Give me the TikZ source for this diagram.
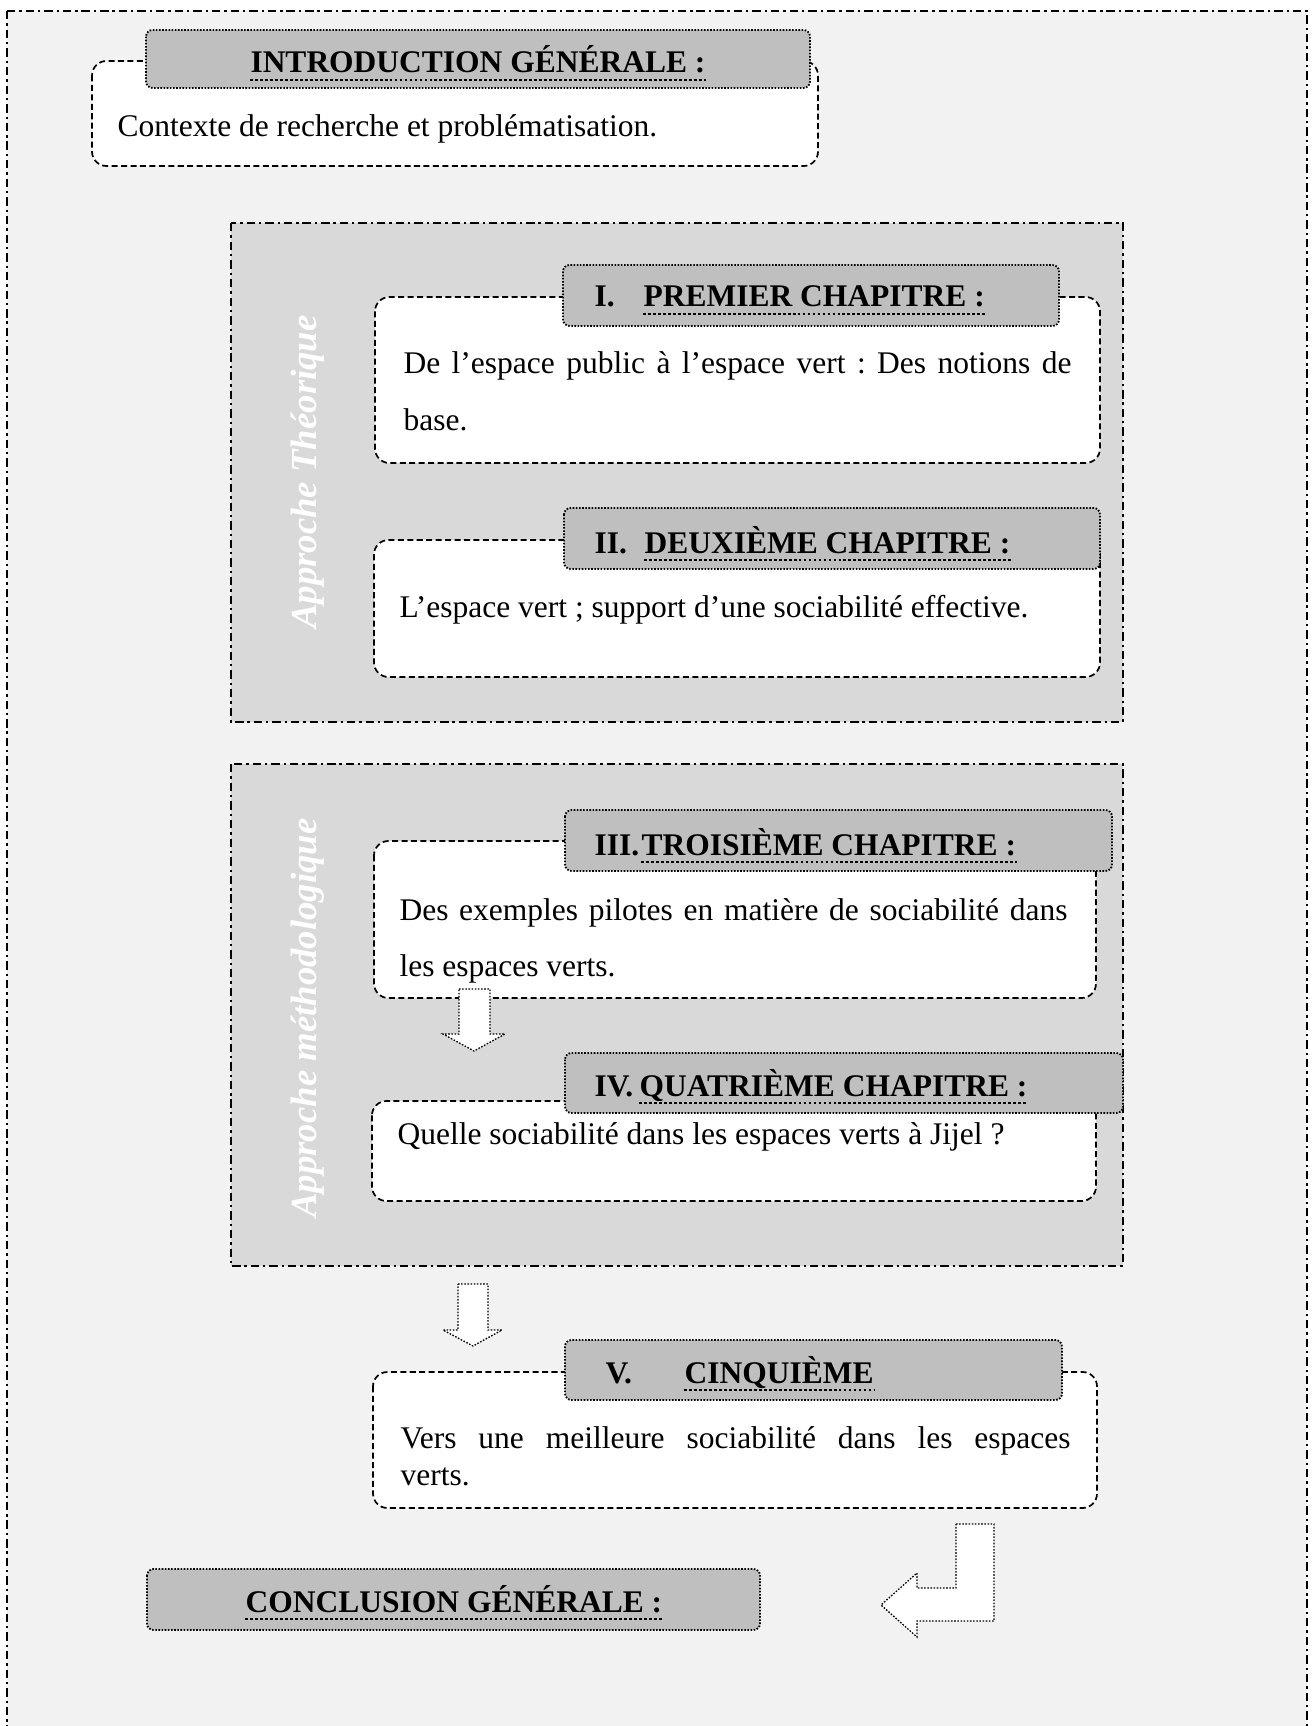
\documentclass[tikz,border=0pt]{standalone}
\usepackage{fontspec}
\setmainfont{Liberation Serif}
\usepackage{tikz}
\frenchspacing

\definecolor{pagegray}{HTML}{F2F2F2}
\definecolor{partgray}{HTML}{D9D9D9}
\definecolor{headgray}{HTML}{BFBFBF}

\tikzset{
  pageframe/.style={fill=pagegray, line width=0.9pt, dash pattern=on 3.2pt off 1.5pt on 0.9pt off 1.5pt},
  partframe/.style={fill=partgray, line width=0.9pt, dash pattern=on 3.2pt off 1.5pt on 0.9pt off 1.5pt},
  chapbox/.style={fill=white, line width=0.65pt, dash pattern=on 2.3pt off 1.3pt, rounded corners=5.5pt},
  headbox/.style={fill=headgray, line width=0.7pt, dash pattern=on 0.6pt off 0.6pt, rounded corners=2.5pt},
  headtext/.style={inner sep=0pt, font=\fontsize{12}{14}\selectfont\bfseries},
  bodytext/.style={inner sep=0pt, font=\fontsize{12}{21.7}\selectfont},
  parttext/.style={rotate=90, text=white, inner sep=0pt, font=\fontsize{14}{16}\selectfont\bfseries\itshape},
  blockarrow/.style={fill=white, line width=0.5pt, dash pattern=on 0.6pt off 0.6pt},
  titleline/.style={line width=0.6pt, dash pattern=on 1.1pt off 0.8pt}
}

% dotted underline below a title node
\newcommand{\ulnode}[1]{\draw[titleline] ([yshift=-2.6pt]#1.base west) -- ([yshift=-2.6pt]#1.base east);}

\begin{document}
\begin{tikzpicture}[x=0.381pt, y=-0.381pt]
        \useasboundingbox (0,0) rectangle (1313,1726);

        % Page frame
        \draw[pageframe] (7,11) rectangle (1307,1790);

        % Introduction
        \draw[chapbox] (92,61) rectangle (818,166);
        \draw[headbox] (146,30) rectangle (810,88);
        \node[headtext, anchor=base] (intro) at (478,73) {INTRODUCTION GÉNÉRALE :};
        \ulnode{intro}
        \node[bodytext, anchor=base west] (introtxt) at (117,137) {Contexte de recherche et problématisation.};

        % Approche theorique
        \draw[partframe] (231,223) rectangle (1123,722);
        \node[parttext] (theo) at (308,472) {Approche Théorique};

        % Chapitre I
        \draw[chapbox] (375,297) rectangle (1100,463);
        \draw[headbox] (563,265) rectangle (1059,326);
        \node[headtext, anchor=base west] (num1) at (594,307) {I.};
        \node[headtext, anchor=base west] (chap1) at (643,307) {PREMIER CHAPITRE :};
        \ulnode{chap1}
        \node[bodytext, text width=254.5pt, align=justify, anchor=base west] (txt1) at (403,374)
            {De l’espace public à l’espace vert : Des notions de\linebreak base.};

        % Chapitre II
        \draw[chapbox] (374,540) rectangle (1100,677);
        \draw[headbox] (564,508) rectangle (1100,569);
        \node[headtext, anchor=base west] (num2) at (594,553) {II.};
        \node[headtext, anchor=base west] (chap2) at (644,553) {DEUXIÈME CHAPITRE :};
        \ulnode{chap2}
        \node[bodytext, anchor=base west] (txt2) at (399,617) {L’espace vert ; support d’une sociabilité effective.};

        % Approche methodologique
        \draw[partframe] (231,764) rectangle (1123,1266);
        \node[parttext] (meth) at (308,1018) {Approche méthodologique};

        % Chapitre III
        \draw[chapbox] (374,841) rectangle (1096,998);
        \draw[headbox] (565,810) rectangle (1112,871);
        \node[headtext, anchor=base west] (num3) at (594,855) {III.};
        \node[headtext, anchor=base west] (chap3) at (641,855) {TROISIÈME CHAPITRE :};
        \ulnode{chap3}
        \node[bodytext, text width=254.5pt, align=justify, anchor=base west] (txt3) at (399,920)
            {Des exemples pilotes en matière de sociabilité dans\linebreak les espaces verts.};

        % Arrow III -> IV
        \draw[blockarrow] (459,989) -- (490,989) -- (490,1034) -- (505,1034) -- (474,1051) -- (443,1034) -- (459,1034) -- cycle;

        % Chapitre IV
        \draw[chapbox] (372,1101) rectangle (1096,1201);
        \draw[headbox] (565,1053) rectangle (1123,1113);
        \node[headtext, anchor=base west] (num4) at (594,1096) {IV.};
        \node[headtext, anchor=base west] (chap4) at (639,1096) {QUATRIÈME CHAPITRE :};
        \ulnode{chap4}
        \node[bodytext, anchor=base west] (txt4) at (397,1144) {Quelle sociabilité dans les espaces verts à Jijel ?};

        % Arrow -> V
        \draw[blockarrow] (458,1284) -- (488,1284) -- (488,1330) -- (502,1330) -- (473,1346) -- (443,1330) -- (458,1330) -- cycle;

        % Chapitre V
        \draw[chapbox] (373,1372) rectangle (1097,1508);
        \draw[headbox] (565,1340) rectangle (1062,1400);
        \node[headtext, anchor=base west] (num5) at (605,1383) {V.};
        \node[headtext, anchor=base west] (chap5) at (684,1383) {CINQUIÈME};
        \ulnode{chap5}
        \node[bodytext, font=\fontsize{12}{14.1}\selectfont, text width=255.3pt, align=justify, anchor=base west] (txt5) at (400,1448)
            {Vers une meilleure sociabilité dans les espaces\linebreak verts.};

        % Arrow -> conclusion
        \draw[blockarrow] (956,1524) -- (994,1524) -- (994,1621) -- (917,1621) -- (917,1637) -- (881,1605) -- (917,1573) -- (917,1588) -- (956,1588) -- cycle;

        % Conclusion
        \draw[headbox] (147,1569) rectangle (760,1630);
        \node[headtext, anchor=base] (concl) at (454,1612) {CONCLUSION GÉNÉRALE :};
        \ulnode{concl}
    \end{tikzpicture}
\end{document}
